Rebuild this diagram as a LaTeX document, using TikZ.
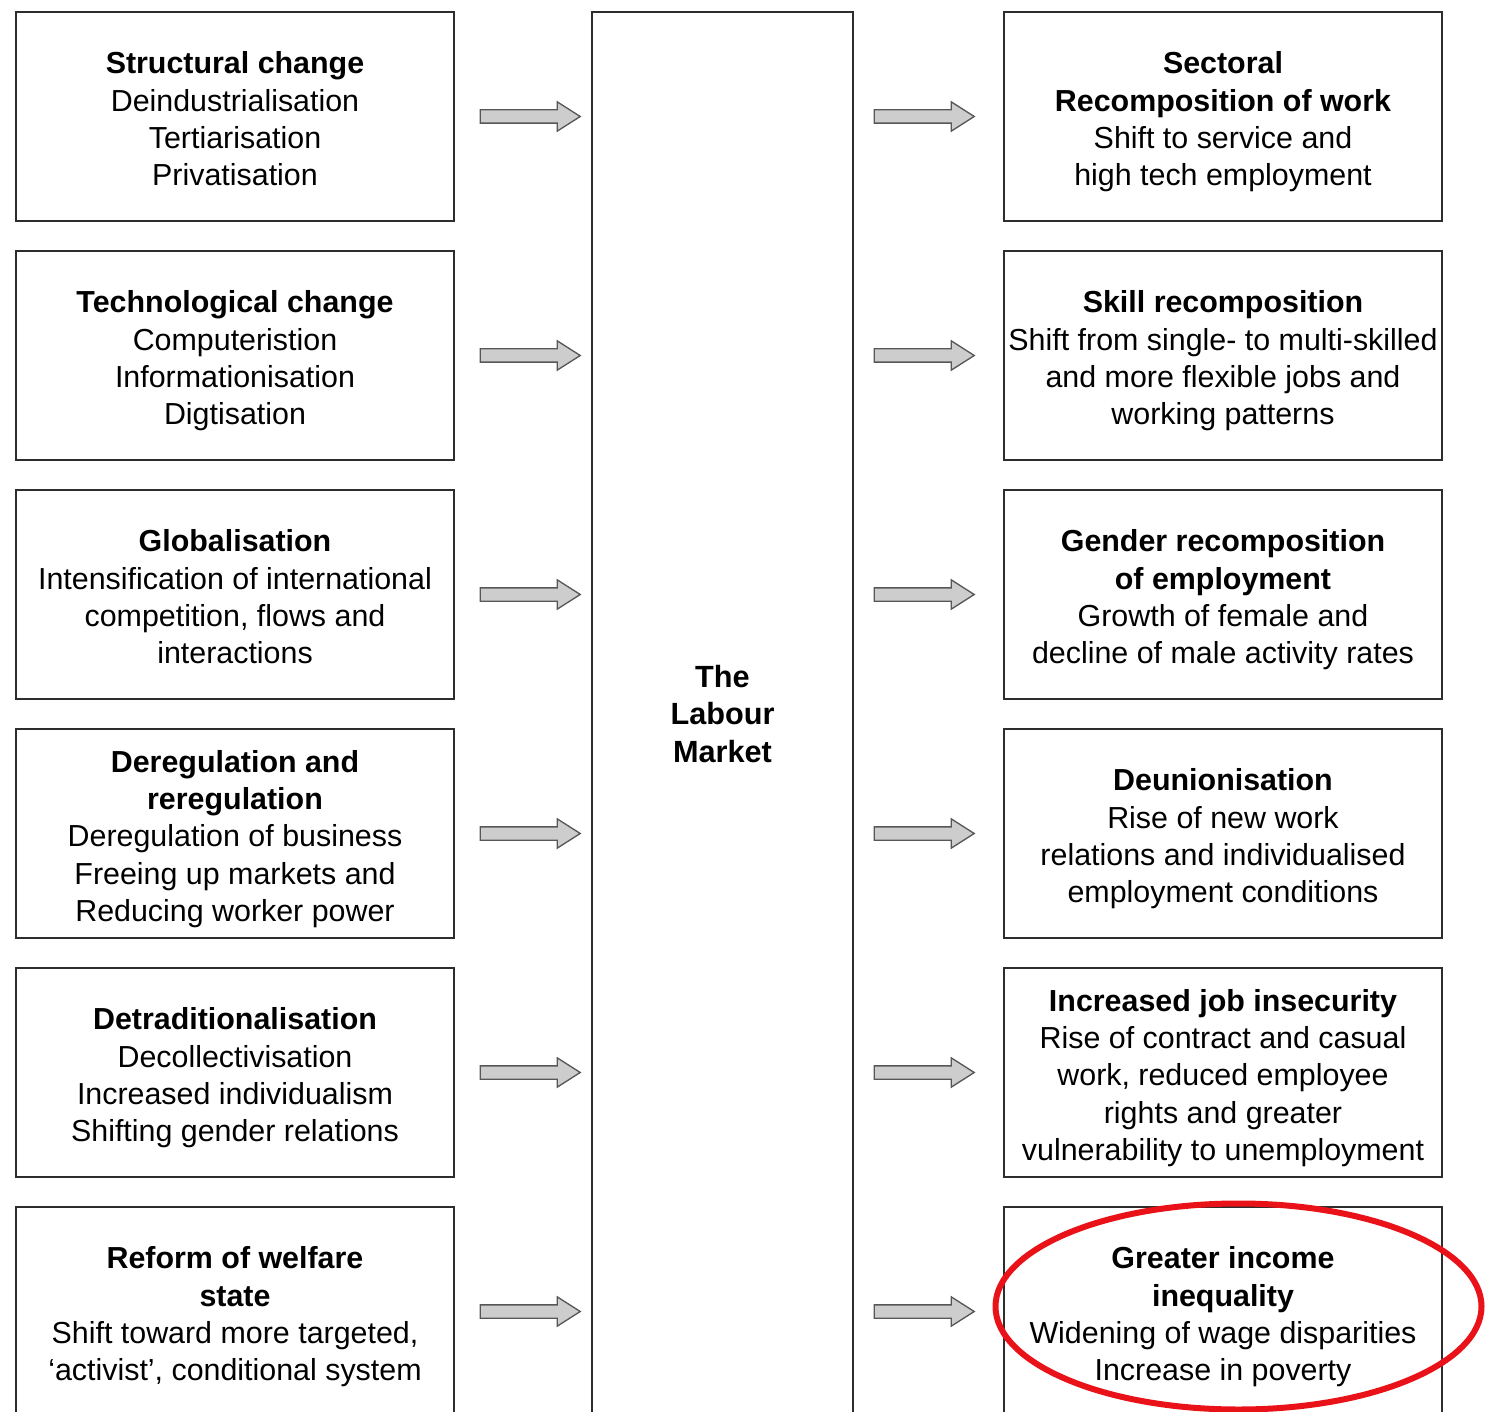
\documentclass[tikz,border=0pt]{standalone}
\usepackage{fontspec}
\setmainfont{Liberation Sans}
\usetikzlibrary{shapes.arrows}
\definecolor{boxline}{RGB}{45,45,45}
\definecolor{arrowfill}{RGB}{205,205,205}
\definecolor{ringred}{RGB}{232,18,24}
\newcommand{\boxhead}[1]{\rule{0pt}{25pt}\textbf{#1}}
\tikzset{
  factor/.style={draw=boxline, line width=1.8pt, minimum width=328.5pt, minimum height=156.75pt,
    inner sep=0pt, align=center, text depth=5pt, font=\fontsize{22.8}{28}\selectfont},
  market/.style={draw=boxline, line width=1.8pt, minimum width=195.75pt, minimum height=1053pt,
    inner sep=0pt, align=center, font=\fontsize{23}{28}\selectfont\bfseries},
  blockarrow/.style={single arrow, draw=boxline!80, fill=arrowfill, line width=1pt,
    minimum height=75pt, inner sep=4.5pt, single arrow head extend=6pt, single arrow tip angle=65},
  ring/.style={draw=ringred, line width=4.5pt}
}
\begin{document}
\begin{tikzpicture}[x=0.75pt,y=0.75pt,yscale=-1,xscale=1]
\useasboundingbox (0,0) rectangle (1489,1412);
\clip (0,0) rectangle (1489,1412);

% Left column: drivers of change
\node[factor] (s1) at (235,116.5) {\boxhead{Structural change}\\Deindustrialisation\\Tertiarisation\\Privatisation};
\node[factor] (s2) at (235,355.5) {\boxhead{Technological change}\\Computeristion\\Informationisation\\Digtisation};
\node[factor] (s3) at (235,594.5) {\boxhead{Globalisation}\\Intensification of international\\competition, flows and\\interactions};
\node[factor] (s4) at (235,833.5) {\boxhead{Deregulation and}\\\textbf{reregulation}\\Deregulation of business\\Freeing up markets and\\Reducing worker power};
\node[factor] (s5) at (235,1072.5) {\boxhead{Detraditionalisation}\\Decollectivisation\\Increased individualism\\Shifting gender relations};
\node[factor] (s6) at (235,1311.5) {\boxhead{Reform of welfare}\\\textbf{state}\\Shift toward more targeted,\\`activist', conditional system};

% Centre column
\node[market] (lm) at (722.5,714) {The\\Labour\\Market};

% Right column: outcomes
\node[factor] (r1) at (1223,116.5) {\boxhead{Sectoral}\\\textbf{Recomposition of work}\\Shift to service and\\high tech employment};
\node[factor] (r2) at (1223,355.5) {\boxhead{Skill recomposition}\\Shift from single- to multi-skilled\\and more flexible jobs and\\working patterns};
\node[factor] (r3) at (1223,594.5) {\boxhead{Gender recomposition}\\\textbf{of employment}\\Growth of female and\\decline of male activity rates};
\node[factor] (r4) at (1223,833.5) {\boxhead{Deunionisation}\\Rise of new work\\relations and individualised\\employment conditions};
\node[factor] (r5) at (1223,1072.5) {\boxhead{Increased job insecurity}\\Rise of contract and casual\\work, reduced employee\\rights and greater\\vulnerability to unemployment};
\node[factor] (r6) at (1223,1311.5) {\boxhead{Greater income}\\\textbf{inequality}\\Widening of wage disparities\\Increase in poverty};

% Block arrows
\foreach \i in {1,...,6} {
  \node[blockarrow] (la\i) at (525,{116.5+239*(\i-1)}) {};
  \node[blockarrow] (ra\i) at (919,{116.5+239*(\i-1)}) {};
}

% Highlight ring
\draw[ring] (1238.5,1306.5) ellipse [x radius=243, y radius=103];

\end{tikzpicture}
\end{document}
